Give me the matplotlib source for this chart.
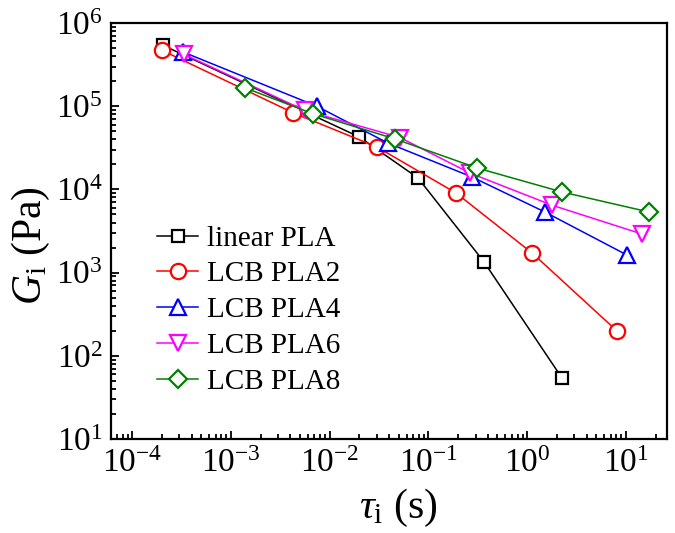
import numpy as np
import matplotlib
matplotlib.use("Agg")
import matplotlib.pyplot as plt
from matplotlib.ticker import LogLocator, NullFormatter

# Relaxation spectrum data
tau_lin = [2.05e-4, 0.0199, 0.0785, 0.366, 2.25]
G_lin = [5.4e5, 4.27e4, 1.37e4, 1340, 54]

tau_2 = [2.0e-4, 4.3e-3, 0.030, 0.19, 1.12, 8.1]
G_2 = [4.7e5, 8.3e4, 3.24e4, 9060, 1720, 199]

tau_4 = [3.25e-4, 7.4e-3, 0.039, 0.276, 1.51, 10.2]
G_4 = [4.5e5, 1.0e5, 3.6e4, 1.41e4, 5350, 1630]

tau_6 = [3.35e-4, 5.6e-3, 0.0516, 0.264, 1.78, 14.5]
G_6 = [4.2e5, 8.9e4, 4.2e4, 1.57e4, 6460, 2910]

tau_8 = [1.39e-3, 6.8e-3, 0.046, 0.31, 2.25, 17.1]
G_8 = [1.66e5, 8.1e4, 4.04e4, 1.81e4, 9310, 5350]

labels = ["linear PLA", "LCB PLA2", "LCB PLA4", "LCB PLA6", "LCB PLA8"]

plt.rcParams['font.family'] = 'Liberation Serif'
plt.rcParams['mathtext.fontset'] = 'custom'
plt.rcParams['mathtext.rm'] = 'Liberation Serif'
plt.rcParams['mathtext.it'] = 'Liberation Serif:italic'
plt.rcParams['mathtext.bf'] = 'Liberation Serif:bold'

fig = plt.figure(figsize=(6.75, 5.33), dpi=100)
ax = fig.add_axes([0.1644, 0.1764, 0.8237, 0.7804])

series = [
    (tau_lin, G_lin, 'black', 's', 8.5),
    (tau_2, G_2, 'red', 'o', 11),
    (tau_4, G_4, 'blue', '^', 11),
    (tau_6, G_6, 'magenta', 'v', 11),
    (tau_8, G_8, 'green', 'D', 9.5),
]
for (x, y, c, m, ms), lab in zip(series, labels):
    ax.plot(x, y, color=c, marker=m, markersize=ms, markerfacecolor='white',
            markeredgecolor=c, markeredgewidth=1.6, linewidth=1.1, label=lab)

ax.set_xscale('log')
ax.set_yscale('log')
ax.set_xlim(6.1e-5, 26)
ax.set_ylim(10, 1e6)

ax.xaxis.set_major_locator(LogLocator(base=10, numticks=12))
ax.xaxis.set_minor_locator(LogLocator(base=10, subs=np.arange(2, 10), numticks=12))
ax.xaxis.set_minor_formatter(NullFormatter())
ax.yaxis.set_major_locator(LogLocator(base=10, numticks=12))
ax.yaxis.set_minor_locator(LogLocator(base=10, subs=np.arange(2, 10), numticks=12))
ax.yaxis.set_minor_formatter(NullFormatter())

ax.tick_params(which='both', direction='in', top=False, right=False, width=1.3)
ax.tick_params(which='major', length=6, labelsize=24)
ax.tick_params(which='minor', length=3.5)
ax.tick_params(axis='x', which='major', pad=7)
ax.tick_params(axis='y', which='major', pad=6)
for s in ax.spines.values():
    s.set_linewidth(1.6)

ax.text(-0.144, 0.464, r'$G_{\rm i}$ (Pa)', transform=ax.transAxes,
        rotation=90, ha='center', va='center', fontsize=30)
ax.text(0.516, -0.166, r'$\tau_{\rm i}$ (s)', transform=ax.transAxes,
        ha='center', va='center', fontsize=30)

ax.legend(loc='center left', bbox_to_anchor=(0.083, 0.31), frameon=False,
          fontsize=21, handlelength=1.4, handletextpad=0.3, labelspacing=0.32,
          borderpad=0, borderaxespad=0)

fig.savefig('out.png', dpi=100)
